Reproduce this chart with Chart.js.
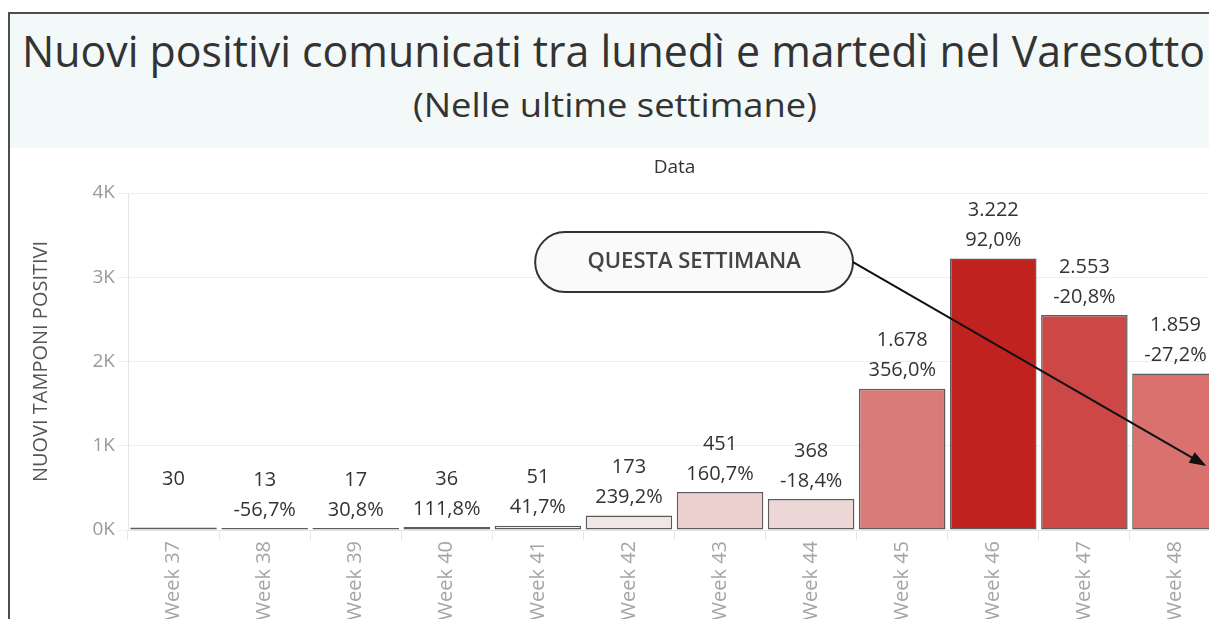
<!DOCTYPE html>
<html lang="it">
<head>
<meta charset="utf-8">
<title>Nuovi positivi nel Varesotto</title>
<script src="https://cdn.jsdelivr.net/npm/chart.js@4.4.1/dist/chart.umd.min.js"></script>
<style>
    html, body {
        margin: 0;
        padding: 0;
        width: 1209px;
        height: 619px;
        overflow: hidden;
        background: #fff;
        font-family: "Open Sans", sans-serif;
    }
    #frame {
        position: absolute;
        left: 8px;
        top: 12px;
        width: 1300px;
        height: 700px;
        border-top: 2px solid #4d4d4d;
        border-left: 2px solid #4d4d4d;
        pointer-events: none;
        z-index: 3;
    }
    #header {
        position: absolute;
        left: 10px;
        top: 14px;
        width: 1300px;
        height: 134px;
        background: #f3f8f8;
        z-index: 1;
    }
    .headline {
        position: absolute;
        white-space: nowrap;
        color: #333;
        line-height: 1;
        transform-origin: 0 50%;
        z-index: 2;
    }
    #titolo { font-size: 43px; }
    #sottotitolo { font-size: 32px; }
    #grafico {
        position: absolute;
        left: 0;
        top: 0;
    }
</style>
</head>
<body>
<div id="header"></div>
<span id="titolo" class="headline">Nuovi positivi comunicati tra lunedì e martedì nel Varesotto</span>
<span id="sottotitolo" class="headline">(Nelle ultime settimane)</span>
<div id="frame"></div>
<canvas id="grafico" width="1240" height="660"></canvas>

<script>
// --- dati ---
const settimane = ["Week 37", "Week 38", "Week 39", "Week 40", "Week 41", "Week 42",
    "Week 43", "Week 44", "Week 45", "Week 46", "Week 47", "Week 48"];
const nuoviPositivi = [30, 13, 17, 36, 51, 173, 451, 368, 1678, 3222, 2553, 1859];
const variazionePct = [null, -56.7, 30.8, 111.8, 41.7, 239.2, 160.7, -18.4, 356.0, 92.0, -20.8, -27.2];
const tickValori = [0, 1000, 2000, 3000, 4000];
const tickEtichette = ["0K", "1K", "2K", "3K", "4K"];
const coloriBarre = ["#fbf7f7", "#fbf7f7", "#fbf7f7", "#fbf7f7", "#fbf6f6", "#f1e6e6",
    "#ecd0d0", "#edd6d6", "#db7b79", "#c0221f", "#cc4745", "#d9716e"];

function numeroIt(n) {
    return String(n).replace(/\B(?=(\d{3})+(?!\d))/g, ".");
}

function pctIt(p) {
    return p.toFixed(1).replace(".", ",") + "%";
}

function adattaRiga(el, left, width, centerY) {
    const w = el.getBoundingClientRect().width;
    el.style.transform = "scaleX(" + (width / w) + ")";
    el.style.left = left + "px";
    el.style.top = (centerY - el.offsetHeight * 0.53) + "px";
}

adattaRiga(document.getElementById("titolo"), 22, 1183, 52);
adattaRiga(document.getElementById("sottotitolo"), 413, 404, 106);

const etichetteValori = {
    id: "etichetteValori",
    afterDatasetsDraw(chart) {
        const ctx = chart.ctx;
        const meta = chart.getDatasetMeta(0);
        ctx.save();
        ctx.font = '20px "Open Sans"';
        ctx.fillStyle = "#333";
        ctx.textAlign = "center";
        ctx.textBaseline = "middle";
        meta.data.forEach(function (bar, i) {
            ctx.fillText(numeroIt(nuoviPositivi[i]), bar.x, bar.y - 48);
            if (variazionePct[i] !== null) {
                ctx.fillText(pctIt(variazionePct[i]), bar.x, bar.y - 18);
            }
        });
        ctx.restore();
    },
};

// fumetto "QUESTA SETTIMANA" con freccia verso l'ultima settimana
const fumetto = {
    id: "fumetto",
    afterDraw(chart) {
        const ctx = chart.ctx;
        const x = chart.scales.x;
        const y = chart.scales.y;
        const sx = x.getPixelForValue(3.97);
        const dx = x.getPixelForValue(7.46);
        const cy = y.getPixelForValue(3180);
        const h = 60;
        const r = h / 2;

        ctx.save();
        ctx.beginPath();
        ctx.moveTo(sx + r, cy - r);
        ctx.lineTo(dx - r, cy - r);
        ctx.arc(dx - r, cy, r, -Math.PI / 2, Math.PI / 2);
        ctx.lineTo(sx + r, cy + r);
        ctx.arc(sx + r, cy, r, Math.PI / 2, Math.PI * 1.5);
        ctx.closePath();
        ctx.fillStyle = "#fafafa";
        ctx.fill();
        ctx.lineWidth = 2;
        ctx.strokeStyle = "#333";
        ctx.stroke();

        ctx.font = '600 22px "Open Sans"';
        ctx.fillStyle = "#444";
        ctx.textAlign = "center";
        ctx.textBaseline = "middle";
        ctx.fillText("QUESTA SETTIMANA", (sx + dx) / 2, cy);

        const ex = x.getPixelForValue(11.34);
        const ey = y.getPixelForValue(760);
        const ang = Math.atan2(ey - cy, ex - dx);
        const len = 17;
        ctx.beginPath();
        ctx.moveTo(dx, cy);
        ctx.lineTo(ex - Math.cos(ang) * len * 0.8, ey - Math.sin(ang) * len * 0.8);
        ctx.lineWidth = 2;
        ctx.strokeStyle = "#111";
        ctx.stroke();
        ctx.beginPath();
        ctx.moveTo(ex, ey);
        ctx.lineTo(ex - len * Math.cos(ang) + 6 * Math.sin(ang), ey - len * Math.sin(ang) - 6 * Math.cos(ang));
        ctx.lineTo(ex - len * Math.cos(ang) - 6 * Math.sin(ang), ey - len * Math.sin(ang) + 6 * Math.cos(ang));
        ctx.closePath();
        ctx.fillStyle = "#111";
        ctx.fill();
        ctx.restore();
    },
};

Chart.defaults.font.family = '"Open Sans", sans-serif';

new Chart(document.getElementById("grafico"), {
    type: "bar",
    data: {
        labels: settimane,
        datasets: [
            {
                label: "Nuovi tamponi positivi",
                data: nuoviPositivi,
                backgroundColor: coloriBarre,
                borderColor: "#5c5c5c",
                borderWidth: 1.5,
                borderSkipped: false,
                minBarLength: 2,
                barPercentage: 0.95,
                categoryPercentage: 1.0,
            },
        ],
    },
    options: {
        responsive: false,
        animation: false,
        layout: {
            padding: { top: 150, left: 12, right: 19, bottom: 0 },
        },
        plugins: {
            legend: { display: false },
            tooltip: { enabled: false },
        },
        scales: {
            x: {
                position: "bottom",
                grid: {
                    offset: true,
                    drawOnChartArea: false,
                    tickLength: 10,
                    color: "#e6e6e6",
                },
                border: { color: "#e6e6e6" },
                ticks: {
                    color: "#a5a5a5",
                    font: { size: 20 },
                    minRotation: 90,
                    maxRotation: 90,
                    padding: 1,
                    autoSkip: false,
                },
                afterFit: function (scale) {
                    scale.height = 130;
                },
            },
            xTop: {
                type: "category",
                position: "top",
                labels: settimane,
                grid: { display: false },
                border: { display: false },
                ticks: { display: false },
                title: {
                    display: true,
                    text: "Data",
                    color: "#333",
                    font: { size: 19, weight: "500" },
                    padding: { top: 6, bottom: 0 },
                },
                afterFit: function (scale) {
                    scale.height = 43;
                },
            },
            y: {
                min: 0,
                max: 4000,
                afterBuildTicks: function (scale) {
                    scale.ticks = tickValori.map(function (v) {
                        return { value: v };
                    });
                },
                ticks: {
                    callback: function (value) {
                        return tickEtichette[tickValori.indexOf(value)];
                    },
                    color: "#9a9a9a",
                    font: { size: 19 },
                    padding: 3,
                },
                grid: { color: "#efefef", tickLength: 10 },
                border: { color: "#e6e6e6" },
                title: {
                    display: true,
                    text: "NUOVI TAMPONI POSITIVI",
                    color: "#555",
                    font: { size: 20 },
                    padding: { top: 17, bottom: 0 },
                },
                afterFit: function (scale) {
                    scale.width = 116;
                },
            },
        },
    },
    plugins: [etichetteValori, fumetto],
});
</script>
</body>
</html>
